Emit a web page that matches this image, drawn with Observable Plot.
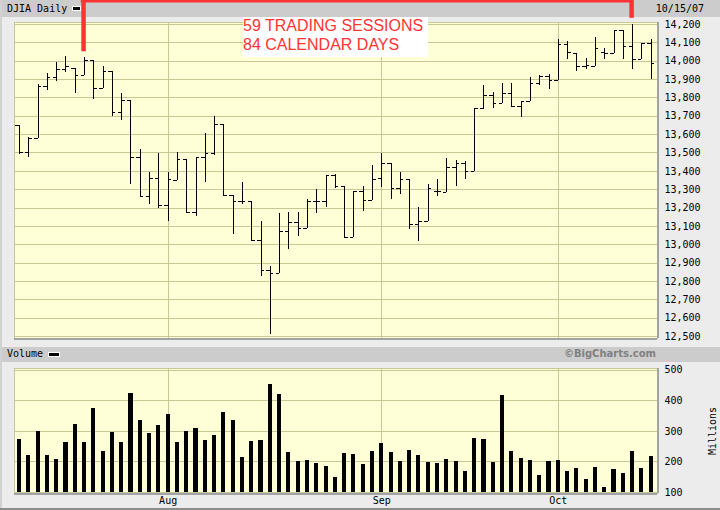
<!DOCTYPE html>
<html>
<head>
<meta charset="utf-8">
<script src="https://cdn.jsdelivr.net/npm/d3@7"></script>
<script src="https://cdn.jsdelivr.net/npm/@observablehq/plot@0.6"></script>
<style>
  html, body { margin:0; padding:0; background:#ececec; }
  #wrap { position:relative; width:720px; height:510px; overflow:hidden; background:#ececec; }
  #wrap > * { position:absolute; }
  .mono { font-family:"DejaVu Sans Mono", monospace; font-size:10px; line-height:10px; color:#000; white-space:pre; }
  .band { background:#cccccc; left:2px; width:718px; }
  .swatch { background:#000; border:1px solid #fff; }
  #note { left:243px; top:17px; width:185px; height:40px; background:#fff; color:#ff3333;
          font:16px/18.5px "Liberation Sans", Arial, sans-serif; white-space:pre; }
  #credit { font:bold 10px/10px "DejaVu Sans", sans-serif; color:#808080; white-space:pre; }
</style>
</head>
<body>
<div id="wrap">
  <div class="band" style="top:0;height:17px"></div>
  <div class="band" style="top:347px;height:15px"></div>
  <div style="left:0;top:0;width:2px;height:510px;background:#d2d2d2"></div>
  <div style="left:0;top:508px;width:720px;height:2px;background:#8c8c8c"></div>
  <div id="title" class="mono" style="left:7px;top:4px"></div>
  <div class="swatch" style="left:72px;top:6px;width:7px;height:3px"></div>
  <div id="date" class="mono" style="right:16px;top:4px"></div>
  <div id="volTitle" class="mono" style="left:7px;top:349px"></div>
  <div class="swatch" style="left:48px;top:352px;width:10px;height:3px"></div>
  <div id="credit" style="right:64px;top:349px"></div>
  <div id="price" style="left:0;top:0"></div>
  <div id="volume" style="left:0;top:345px"></div>
  <div id="note"></div>
</div>
<script>
// ---- data (DJIA daily) ----
const dates = [
  "2007-07-10","2007-07-11","2007-07-12","2007-07-13","2007-07-16","2007-07-17","2007-07-18","2007-07-19","2007-07-20",
  "2007-07-23","2007-07-24","2007-07-25","2007-07-26","2007-07-27","2007-07-30","2007-07-31",
  "2007-08-01","2007-08-02","2007-08-03","2007-08-06","2007-08-07","2007-08-08","2007-08-09","2007-08-10",
  "2007-08-13","2007-08-14","2007-08-15","2007-08-16","2007-08-17","2007-08-20","2007-08-21","2007-08-22",
  "2007-08-23","2007-08-24","2007-08-27","2007-08-28","2007-08-29","2007-08-30","2007-08-31",
  "2007-09-04","2007-09-05","2007-09-06","2007-09-07","2007-09-10","2007-09-11","2007-09-12","2007-09-13",
  "2007-09-14","2007-09-17","2007-09-18","2007-09-19","2007-09-20","2007-09-21","2007-09-24","2007-09-25",
  "2007-09-26","2007-09-27","2007-09-28",
  "2007-10-01","2007-10-02","2007-10-03","2007-10-04","2007-10-05","2007-10-08","2007-10-09","2007-10-10",
  "2007-10-11","2007-10-12","2007-10-15"
];
const opens = [13648,13500,13577,13860,13908,13953,13958,13922,14004,13850,13942,13721,13786,13474,13263,13360,
  13213,13351,13463,13178,13474,13499,13655,13269,13236,13236,13024,12860,12842,13075,13122,13089,13236,13233,
  13376,13320,13038,13292,13242,13360,13441,13305,13358,13111,13125,13292,13287,13423,13441,13401,13741,13813,
  13768,13826,13753,13780,13877,13917,13893,14091,14040,13973,13968,14046,14040,14164,14080,14011,14093];
const highs = [13648,13586,13871,13931,13991,14026,13958,14018,14004,13973,13942,13822,13786,13519,13396,13496,
  13394,13505,13463,13474,13608,13699,13655,13269,13338,13236,13125,12880,13169,13178,13178,13247,13301,13378,
  13383,13320,13292,13318,13430,13499,13441,13396,13358,13205,13329,13358,13472,13459,13452,13741,13868,13831,
  13880,13880,13782,13913,13920,13928,14116,14107,14040,14013,14127,14067,14164,14164,14200,14098,14116];
const lows = [13492,13474,13577,13840,13891,13940,13822,13922,13793,13850,13701,13674,13330,13263,13218,13196,
  13129,13350,13173,13156,13341,13487,13269,13055,13220,13018,12828,12512,12842,12977,13047,13089,13169,13205,
  13309,13033,13038,13183,13242,13314,13245,13274,13082,13020,13125,13263,13287,13320,13358,13401,13737,13741,
  13768,13753,13695,13780,13866,13848,13893,14011,13944,13953,13968,14007,14040,14007,13953,14011,13902];
const closes = [13500,13580,13860,13908,13953,13969,13922,14004,13850,13942,13721,13786,13474,13263,13360,13213,
  13356,13463,13178,13474,13499,13655,13269,13236,13236,13024,12860,12842,13075,13122,13089,13236,13233,13376,
  13320,13038,13292,13242,13354,13441,13305,13358,13111,13125,13305,13291,13423,13441,13401,13741,13813,13768,
  13826,13753,13782,13877,13917,13893,14091,14046,13973,13977,14067,14043,14164,14080,14011,14095,13986];
const volumes = [273,221,300,221,208,264,322,264,375,234,296,264,424,336,293,319,355,264,300,309,270,286,362,336,
  215,267,270,453,421,231,201,205,195,185,149,228,224,192,234,260,231,201,237,221,198,195,208,201,169,277,273,198,
  417,234,211,205,156,201,205,169,179,143,182,116,175,162,234,179,218];

const priceTicks = [12500,12600,12700,12800,12900,13000,13100,13200,13300,13400,13500,13600,13700,13800,13900,14000,14100,14200];
const volumeTicks = [100,200,300,400,500];
const monthStarts = ["2007-08-01","2007-09-04","2007-10-01"];
const monthLabels = ["Aug","Sep","Oct"];
const noteSpan = ["2007-07-19","2007-10-11"];
const noteLines = ["59 TRADING SESSIONS","84 CALENDAR DAYS"];
const chartTitle = "DJIA Daily";
const lastDate = "10/15/07";
const volumeTitle = "Volume";
const creditText = "\u00A9BigCharts.com";
const volumeUnit = "Millions";

// ---- build ----
const bars = dates.map((d, i) => ({i, date: d, open: opens[i], high: highs[i], low: lows[i], close: closes[i], volume: volumes[i]}));
const monthIdx = monthStarts.map(d => dates.indexOf(d));
const noteIdx = noteSpan.map(d => dates.indexOf(d));
const xDomain = [-0.54, dates.length - 1 + 0.68];
const GRID = "#c8c896", BG = "#ffffd7", EDGE = "#a3a3a3", RED = "#ff3333";
const baseStyle = {background: "none", fontFamily: "DejaVu Sans Mono, monospace", fontSize: "10px", color: "#000", overflow: "visible"};
const crisp = {shapeRendering: "crispEdges"};

const price = Plot.plot({
  width: 720, height: 345,
  marginLeft: 14, marginRight: 63, marginTop: 22, marginBottom: 7,
  style: baseStyle,
  x: {domain: xDomain, axis: null},
  y: {domain: [12490, 14210], axis: "right", ticks: priceTicks, tickFormat: d3.format(","), tickSize: 0, tickPadding: 7, label: null},
  marks: [
    Plot.frame({fill: BG, stroke: null}),
    Plot.ruleY(priceTicks, {stroke: GRID, strokeWidth: 1, ...crisp}),
    Plot.ruleX(monthIdx, {stroke: GRID, strokeWidth: 1, ...crisp}),
    Plot.frame({stroke: GRID, ...crisp}),
    Plot.ruleX([xDomain[1]], {stroke: EDGE, strokeWidth: 2, ...crisp}),
    Plot.ruleY([12490], {stroke: EDGE, strokeWidth: 2, ...crisp}),
    Plot.ruleX(bars, {x: "i", y1: "low", y2: "high", stroke: "#000", strokeWidth: 1, ...crisp}),
    Plot.ruleY(bars, {y: "open", x1: d => d.i - 0.38, x2: "i", stroke: "#000", strokeWidth: 1, ...crisp}),
    Plot.ruleY(bars, {y: "close", x1: "i", x2: d => d.i + 0.38, stroke: "#000", strokeWidth: 1, ...crisp}),
    Plot.ruleX(noteIdx, {x: d => d, y1: () => 14340, y2: d => highs[d], insetBottom: 6, dx: -1, stroke: RED, strokeWidth: 4.5}),
    Plot.ruleY([14327], {y: d => d, x1: () => noteIdx[0], x2: () => noteIdx[1], dx: -1, insetLeft: -2.3, insetRight: -2.3, stroke: RED, strokeWidth: 3})
  ]
});
document.getElementById("price").appendChild(price);

const volume = Plot.plot({
  width: 720, height: 165,
  marginLeft: 14, marginRight: 63, marginTop: 23, marginBottom: 17,
  style: baseStyle,
  x: {domain: xDomain, axis: "bottom", ticks: monthIdx, tickFormat: i => monthLabels[monthIdx.indexOf(i)], tickSize: 0, tickPadding: 3, label: null},
  y: {domain: [96.7, 505.6], axis: "right", ticks: volumeTicks, tickSize: 0, tickPadding: 7, label: null},
  marks: [
    Plot.frame({fill: BG, stroke: null}),
    Plot.ruleY(volumeTicks, {stroke: GRID, strokeWidth: 1, ...crisp}),
    Plot.ruleX(monthIdx, {stroke: GRID, strokeWidth: 1, ...crisp}),
    Plot.frame({stroke: GRID, ...crisp}),
    Plot.ruleX([xDomain[1]], {stroke: EDGE, strokeWidth: 2, ...crisp}),
    Plot.ruleY([96.7], {stroke: EDGE, strokeWidth: 2, ...crisp}),
    Plot.rect(bars, {x1: d => d.i - 0.22, x2: d => d.i + 0.22, y1: () => 100, y2: "volume", fill: "#000", ...crisp}),
    Plot.text([volumeUnit], {text: d => d, frameAnchor: "right", textAnchor: "middle", rotate: -90, dx: 55})
  ]
});
document.getElementById("volume").appendChild(volume);

document.getElementById("title").textContent = chartTitle;
document.getElementById("date").textContent = lastDate;
document.getElementById("volTitle").textContent = volumeTitle;
document.getElementById("credit").textContent = creditText;
document.getElementById("note").textContent = noteLines.join("\n");
</script>
</body>
</html>
